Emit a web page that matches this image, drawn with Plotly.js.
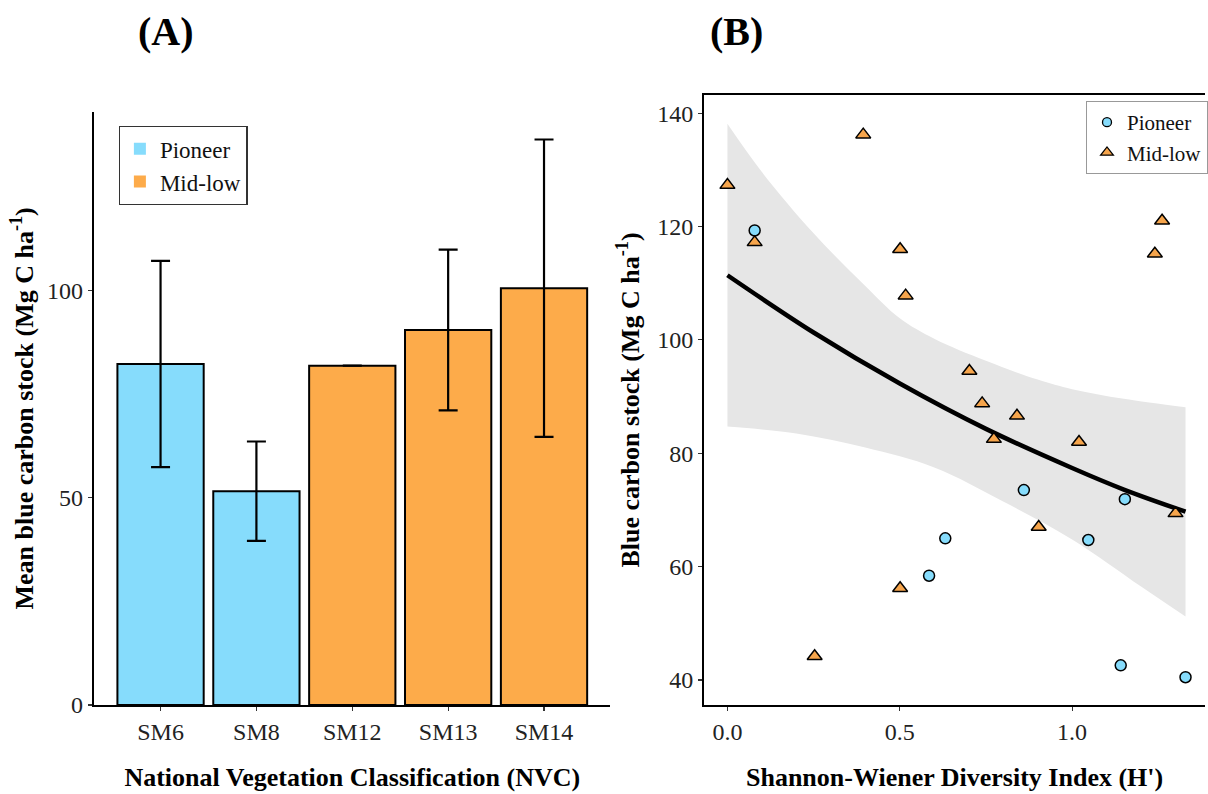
<!DOCTYPE html>
<html>
<head>
<meta charset="utf-8">
<script src="https://cdn.plot.ly/plotly-3.0.1.min.js"></script>
<style>html,body{margin:0;padding:0;background:#fff;}</style>
</head>
<body>
<div id="chart" style="width:1208px;height:794px;"></div>
<script>
// ---------- Panel A data (bar chart) ----------
const nvcCategories = ['SM6', 'SM8', 'SM12', 'SM13', 'SM14'];
const pioneerCats = ['SM6', 'SM8'];
const pioneerMeans = [82.3, 51.6];
const pioneerErr = [24.9, 12.0];
const midlowCats = ['SM12', 'SM13', 'SM14'];
const midlowMeans = [81.9, 90.5, 100.6];
const midlowErr = [0, 19.4, 35.9];
const yTicksA = [0, 50, 100];

// ---------- Panel B data (scatter) ----------
const pioneerH = [0.079, 0.585, 0.632, 0.860, 1.047, 1.141, 1.153, 1.329];
const pioneerStock = [119.3, 58.4, 65.0, 73.5, 64.7, 42.6, 71.9, 40.5];
const midlowH = [0.0, 0.079, 0.253, 0.394, 0.501, 0.501, 0.517, 0.702, 0.739, 0.773, 0.840, 0.903, 1.020, 1.240, 1.261, 1.300];
const midlowStock = [127.3, 117.2, 44.2, 136.2, 116.0, 56.2, 107.8, 94.5, 88.8, 82.5, 86.6, 67.0, 82.0, 115.2, 121.0, 69.4];
// fitted curve
const fitH = [0.0, 0.25, 0.5, 0.75, 1.0, 1.15, 1.329];
const fitStock = [111.4, 101.3, 92.3, 84.3, 77.4, 73.6, 69.7];
// confidence band
const ciUpperH = [0.0, 0.1, 0.25, 0.4, 0.5, 0.6, 0.75, 0.9, 1.0, 1.15, 1.329];
const ciUpper = [138.1, 129.6, 118.8, 109.5, 103.8, 100.2, 96.3, 93.0, 91.3, 89.6, 88.1];
const ciLowerH = [0.0, 0.2, 0.4, 0.6, 0.8, 1.0, 1.2, 1.329];
const ciLower = [84.7, 83.5, 81.0, 77.5, 71.5, 64.8, 56.5, 51.2];
const xTicksB = [0, 0.5, 1.0];
const xTickTextB = ['0.0', '0.5', '1.0'];
const yTicksB = [40, 60, 80, 100, 120, 140];

const SERIF = 'Liberation Serif';
const BLUE = '#86dcfc';
const ORANGE = '#fdab4a';
const TRI = '#f6a54c';

const traces = [
  // bars
  {
    type: 'bar', name: 'Pioneer', x: pioneerCats, y: pioneerMeans,
    xaxis: 'x', yaxis: 'y', width: 0.9, showlegend: false,
    marker: {color: BLUE, line: {color: '#000', width: 2}},
    error_y: {type: 'data', array: pioneerErr, visible: true, color: '#000', thickness: 2.2, width: 9.5}
  },
  {
    type: 'bar', name: 'Mid-low', x: midlowCats, y: midlowMeans,
    xaxis: 'x', yaxis: 'y', width: 0.9, showlegend: false,
    marker: {color: ORANGE, line: {color: '#000', width: 2}},
    error_y: {type: 'data', array: midlowErr, visible: true, color: '#000', thickness: 2.2, width: 9.5}
  },
  // legend swatches for panel A (no outline, like the reference)
  {
    type: 'bar', name: 'Pioneer', x: [null], y: [null], xaxis: 'x', yaxis: 'y',
    marker: {color: BLUE, line: {width: 0}}, legend: 'legend'
  },
  {
    type: 'bar', name: 'Mid-low', x: [null], y: [null], xaxis: 'x', yaxis: 'y',
    marker: {color: ORANGE, line: {width: 0}}, legend: 'legend'
  },
  // confidence band
  {
    type: 'scatter', mode: 'lines', x: ciLowerH, y: ciLower,
    line: {shape: 'spline', smoothing: 1, width: 0, color: 'rgba(0,0,0,0)'},
    xaxis: 'x2', yaxis: 'y2', showlegend: false, hoverinfo: 'skip'
  },
  {
    type: 'scatter', mode: 'lines', x: ciUpperH, y: ciUpper,
    line: {shape: 'spline', smoothing: 1, width: 0, color: 'rgba(0,0,0,0)'},
    fill: 'tonexty', fillcolor: '#e6e6e6',
    xaxis: 'x2', yaxis: 'y2', showlegend: false, hoverinfo: 'skip'
  },
  // fitted curve
  {
    type: 'scatter', mode: 'lines', x: fitH, y: fitStock,
    line: {color: '#000', width: 4.5, shape: 'spline', smoothing: 1},
    xaxis: 'x2', yaxis: 'y2', showlegend: false
  },
  // points
  {
    type: 'scatter', mode: 'markers', name: 'Pioneer', x: pioneerH, y: pioneerStock,
    marker: {symbol: 'circle', size: 11, color: BLUE, line: {color: '#000', width: 1.5}},
    xaxis: 'x2', yaxis: 'y2', showlegend: false
  },
  {
    type: 'scatter', mode: 'markers', name: 'Mid-low', x: midlowH, y: midlowStock,
    marker: {symbol: 'triangle-up', size: 13, color: TRI, line: {color: '#000', width: 1.5}},
    xaxis: 'x2', yaxis: 'y2', showlegend: false
  },
  // legend entries for panel B (smaller markers, like the reference)
  {
    type: 'scatter', mode: 'markers', name: 'Pioneer', x: [null], y: [null],
    marker: {symbol: 'circle', size: 9, color: BLUE, line: {color: '#000', width: 1.3}},
    xaxis: 'x2', yaxis: 'y2', legend: 'legend2'
  },
  {
    type: 'scatter', mode: 'markers', name: 'Mid-low', x: [null], y: [null],
    marker: {symbol: 'triangle-up', size: 11, color: TRI, line: {color: '#000', width: 1.3}},
    xaxis: 'x2', yaxis: 'y2', legend: 'legend2'
  }
];

const tickFont = {family: SERIF, size: 24, color: '#222'};
const titleFont = {family: SERIF, size: 26, color: '#000'};

const layout = {
  width: 1208, height: 794,
  margin: {l: 0, r: 0, t: 0, b: 0},
  font: {family: SERIF, size: 22, color: '#111'},
  paper_bgcolor: '#fff', plot_bgcolor: 'rgba(0,0,0,0)',
  barmode: 'overlay',
  showlegend: true,
  xaxis: {
    domain: [0.0781, 0.5066], anchor: 'y', type: 'category',
    categoryorder: 'array', categoryarray: nvcCategories,
    range: [-0.693, 4.693],
    showline: true, linecolor: '#000', linewidth: 2.2,
    ticks: 'outside', ticklen: 4, tickwidth: 1.2, tickcolor: '#333',
    showgrid: false, zeroline: false, tickfont: tickFont,
    title: {text: '<b>National Vegetation Classification (NVC)</b>', font: titleFont, standoff: 24}
  },
  yaxis: {
    domain: [0.1121, 0.8593], anchor: 'x',
    range: [0, 143.2], tickvals: yTicksA,
    showline: true, linecolor: '#000', linewidth: 2.2,
    ticks: 'outside', ticklen: 4, tickwidth: 1.2, tickcolor: '#333',
    showgrid: false, zeroline: false, tickfont: tickFont,
    title: {text: '<b>Mean blue carbon stock (Mg C ha<sup>-1</sup>)</b>', font: titleFont, standoff: 6}
  },
  xaxis2: {
    domain: [0.5844, 1], anchor: 'y2',
    range: [-0.0674, 1.3855], tickvals: xTicksB, ticktext: xTickTextB,
    showline: true, mirror: true, linecolor: '#000', linewidth: 2.2,
    ticks: 'outside', ticklen: 4, tickwidth: 1.2, tickcolor: '#333',
    showgrid: false, zeroline: false, tickfont: tickFont,
    title: {text: "<b>Shannon-Wiener Diversity Index (H')</b>", font: titleFont, standoff: 24}
  },
  yaxis2: {
    domain: [0.1121, 0.8804], anchor: 'x2',
    range: [35.6, 143.2], tickvals: yTicksB,
    showline: true, linecolor: '#000', linewidth: 2.2,
    ticks: 'outside', ticklen: 4, tickwidth: 1.2, tickcolor: '#333',
    showgrid: false, zeroline: false, tickfont: tickFont,
    title: {text: '<b>Blue carbon stock (Mg C ha<sup>-1</sup>)</b>', font: titleFont, standoff: 10}
  },
  legend: {
    x: 0.0985, y: 0.8413, xanchor: 'left', yanchor: 'top',
    traceorder: 'normal',
    bgcolor: '#fff', bordercolor: '#333', borderwidth: 1.2,
    font: {family: SERIF, size: 23, color: '#111', weight: 'normal'},
    itemwidth: 30, tracegroupgap: 0
  },
  legend2: {
    x: 0.9015, y: 0.8728, xanchor: 'left', yanchor: 'top',
    traceorder: 'normal',
    bgcolor: '#fff', bordercolor: '#999', borderwidth: 1,
    font: {family: SERIF, size: 21, color: '#111', weight: 'normal'},
    itemwidth: 30, tracegroupgap: 0
  },
  annotations: [
    {text: '<b>(A)</b>', xref: 'paper', yref: 'paper', x: 166 / 1208, y: 1 - 31 / 794,
     xanchor: 'center', yanchor: 'middle', showarrow: false,
     font: {family: SERIF, size: 40, color: '#000'}},
    {text: '<b>(B)</b>', xref: 'paper', yref: 'paper', x: 738 / 1208, y: 1 - 31 / 794,
     xanchor: 'center', yanchor: 'middle', showarrow: false,
     font: {family: SERIF, size: 40, color: '#000'}}
  ]
};

Plotly.newPlot('chart', traces, layout, {displayModeBar: false, staticPlot: true});
</script>
</body>
</html>
